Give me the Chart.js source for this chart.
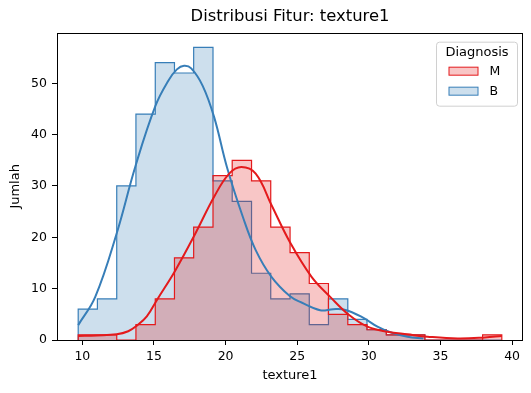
<!DOCTYPE html>
<html>
<head>
<meta charset="utf-8">
<script src="https://cdn.jsdelivr.net/npm/chart.js@4.4.1/dist/chart.umd.min.js"></script>
<style>
  body { margin: 0; background: #fff; }
  #wrap { width: 531px; height: 393px; }
</style>
</head>
<body>
<div id="wrap"><canvas id="myChart" width="531" height="393"></canvas></div>
<script>
// bin edges shared by both groups (22 bins)
const binEdges = [9.71, 11.05, 12.40, 13.74, 15.09, 16.43, 17.77, 19.12, 20.46, 21.81, 23.15, 24.50,
    25.84, 27.18, 28.53, 29.87, 31.22, 32.56, 33.91, 35.25, 36.59, 37.94, 39.28];

const diagnoses = ['M', 'B'];
const countsM = [1, 1, 0, 3, 8, 16, 22, 32, 35, 31, 22, 17, 11, 5, 3, 2, 1, 1, 0, 0, 0, 1];
const countsB = [6, 8, 30, 44, 54, 52, 57, 31, 27, 13, 8, 9, 3, 8, 4, 2, 1, 1, 0, 0, 0, 0];

// kde curves
const kdeM_x = [9.71, 11.0, 12.4, 13.2, 13.8, 14.5, 15.25, 16.5, 17.9, 19.2, 20.25, 21.1, 22.1, 23.2, 24.5,
    26.0, 27.3, 28.6, 29.9, 31.3, 32.7, 34.1, 36.2, 38.1, 39.28];
const kdeM_y = [0.8, 0.9, 1.1, 1.7, 2.8, 4.6, 8.0, 13.6, 20.8, 27.9, 32.4, 33.7, 32.4, 26.3, 19.0,
    12.3, 8.4, 4.9, 2.6, 1.6, 1.1, 0.65, 0.3, 0.5, 0.8];

const kdeB_x = [9.71, 10.9, 12.4, 13.7, 15.1, 16.0, 16.6, 17.1, 17.6, 18.4, 19.2, 20.1, 21.2, 22.1, 23.2, 24.5,
    25.3, 26.6, 27.5, 28.3, 29.5, 30.6, 31.6, 32.7, 33.81];
const kdeB_y = [2.9, 8.4, 20.8, 33.8, 45.6, 50.5, 52.7, 53.4, 52.9, 49.5, 43.4, 33.6, 24.0, 17.5, 12.3, 8.5,
    7.3, 5.8, 6.0, 5.9, 4.5, 2.6, 1.4, 0.65, 0.3];

const xTicks = [10, 15, 20, 25, 30, 35, 40];
const yTicks = [0, 10, 20, 30, 40, 50];

const colM = '#e41a1c';
const colB = '#377eb8';
const fillM = 'rgba(228,26,28,0.25)';
const fillB = 'rgba(55,126,184,0.25)';

// step outline: start on the baseline, one point per bin, close on the baseline
function stepPoints(counts) {
    let pts = [{x: binEdges[0], y: 0}];
    for (let i = 0; i < counts.length; i++) {
        pts.push({x: binEdges[i], y: counts[i]});
    }
    pts.push({x: binEdges[binEdges.length - 1], y: counts[counts.length - 1]});
    pts.push({x: binEdges[binEdges.length - 1], y: 0});
    return pts;
}

function curvePoints(xs, ys) {
    return xs.map((x, i) => ({x: x, y: ys[i]}));
}

Chart.defaults.font.family = "'DejaVu Sans', sans-serif";
Chart.defaults.color = '#000';

const frame = {
    id: 'frame',
    afterDraw(chart) {
        const {ctx, chartArea: a} = chart;
        ctx.save();
        ctx.strokeStyle = '#000';
        ctx.lineWidth = 1;
        ctx.strokeRect(Math.round(a.left) + 0.5, Math.round(a.top) + 0.5,
            Math.round(a.right - a.left) - 1, Math.round(a.bottom - a.top));
        ctx.restore();
    }
};

const legendBox = {
    id: 'legendBox',
    afterDraw(chart) {
        const {ctx, chartArea: a} = chart;
        const w = 81, h = 64;
        const x = a.right - 5.5 - w, y = a.top + 9.5;
        ctx.save();
        ctx.beginPath();
        ctx.roundRect(x, y, w, h, 3);
        ctx.fillStyle = 'rgba(255,255,255,0.8)';
        ctx.fill();
        ctx.strokeStyle = '#d0d0d0';
        ctx.lineWidth = 1;
        ctx.stroke();

        ctx.fillStyle = '#000';
        ctx.textBaseline = 'middle';
        ctx.textAlign = 'center';
        ctx.font = "13px 'DejaVu Sans'";
        ctx.fillText('Diagnosis', x + w / 2, y + 10.5);

        const fills = [fillM, fillB];
        const edges = [colM, colB];
        ctx.textAlign = 'left';
        ctx.font = "12.5px 'DejaVu Sans'";
        diagnoses.forEach((d, i) => {
            const cy = y + 29 + i * 20;
            ctx.fillStyle = fills[i];
            ctx.fillRect(x + 12.5, cy - 4, 29, 8);
            ctx.strokeStyle = edges[i];
            ctx.strokeRect(x + 12.5, cy - 4, 29, 8);
            ctx.fillStyle = '#000';
            ctx.fillText(d, x + 53, cy + 0.5);
        });
        ctx.restore();
    }
};

const ctx = document.getElementById('myChart');

window.myChart = new Chart(ctx, {
    type: 'line',
    data: {
        datasets: [
            {
                label: 'KDE M',
                data: curvePoints(kdeM_x, kdeM_y),
                borderColor: colM,
                borderWidth: 2,
                pointRadius: 0,
                tension: 0.4,
                fill: false
            },
            {
                label: 'KDE B',
                data: curvePoints(kdeB_x, kdeB_y),
                borderColor: colB,
                borderWidth: 2,
                pointRadius: 0,
                tension: 0.4,
                fill: false
            },
            {
                label: diagnoses[0],
                data: stepPoints(countsM),
                stepped: true,
                borderColor: colM,
                backgroundColor: fillM,
                borderWidth: 1.2,
                pointRadius: 0,
                fill: 'origin'
            },
            {
                label: diagnoses[1],
                data: stepPoints(countsB),
                stepped: true,
                borderColor: colB,
                backgroundColor: fillB,
                borderWidth: 1.2,
                pointRadius: 0,
                fill: 'origin'
            }
        ]
    },
    options: {
        responsive: false,
        animation: false,
        layout: {padding: {left: 0, right: 8, top: 0, bottom: 0}},
        plugins: {
            legend: {display: false},
            tooltip: {enabled: false},
            title: {
                display: true,
                fullSize: false,
                text: 'Distribusi Fitur: texture1',
                font: {size: 16.4, weight: 'normal'},
                color: '#000',
                padding: {top: 7, bottom: 6}
            }
        },
        scales: {
            x: {
                type: 'linear',
                min: 8.23,
                max: 40.76,
                afterBuildTicks: (scale) => { scale.ticks = xTicks.map(v => ({value: v})); },
                afterFit: (scale) => { scale.height = 53; },
                grid: {drawOnChartArea: false, drawTicks: true, tickLength: 5, tickColor: '#000', tickWidth: 1},
                border: {display: false},
                ticks: {font: {size: 12.5}, color: '#000', padding: 4, maxRotation: 0},
                title: {display: true, text: 'texture1', font: {size: 13}, color: '#000', padding: {top: 0, bottom: 10}}
            },
            y: {
                min: 0,
                max: 59.85,
                afterBuildTicks: (scale) => { scale.ticks = yTicks.map(v => ({value: v})); },
                afterFit: (scale) => { scale.width = 57; },
                grid: {drawOnChartArea: false, drawTicks: true, tickLength: 5, tickColor: '#000', tickWidth: 1},
                border: {display: false},
                ticks: {font: {size: 12.5}, color: '#000', padding: 5},
                title: {display: true, text: 'Jumlah', font: {size: 13}, color: '#000', padding: {top: 8, bottom: 0}}
            }
        }
    },
    plugins: [frame, legendBox]
});
</script>
</body>
</html>
